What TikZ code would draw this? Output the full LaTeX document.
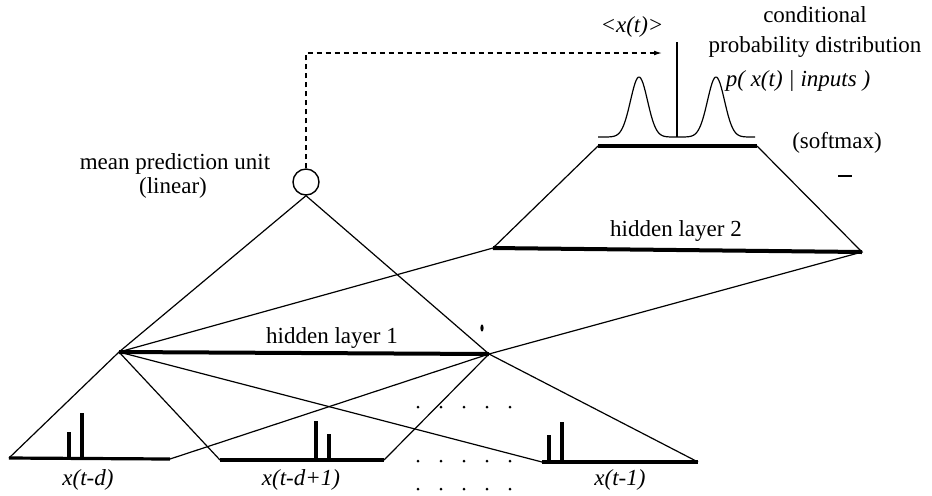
\documentclass[tikz,border=0pt]{standalone}
\usepackage{fontspec}
\setmainfont{Liberation Serif}
\usetikzlibrary{arrows.meta}

\begin{document}
\begin{tikzpicture}[
    x=0.5pt, y=-0.5pt,
    conn/.style={line width=0.6pt},
    layer/.style={line width=2pt},
    inbar/.style={line width=1.6pt},
    spike/.style={line width=1.7pt},
    lbl/.style={font=\fontsize{11.5}{13}\selectfont, inner sep=0pt, anchor=base},
    ilbl/.style={lbl, font=\fontsize{11.5}{13}\selectfont\itshape},
    unit/.style={circle, draw, line width=0.7pt, minimum size=13pt, inner sep=0pt},
    fb/.style={dash pattern=on 2.5pt off 2pt, line width=0.6pt, -{Latex[length=4pt,width=2.4pt]}}
  ]
  \useasboundingbox (0,0) rectangle (932,495);

  % layer end points
  \coordinate (h1l) at (119,352);
  \coordinate (h1r) at (489,354);
  \coordinate (h2l) at (493,248);
  \coordinate (h2r) at (862,252);
  \coordinate (sml) at (598,146);
  \coordinate (smr) at (757,146);
  \coordinate (in1l) at (9,458);
  \coordinate (in1r) at (170,459);
  \coordinate (in2l) at (220,460);
  \coordinate (in2r) at (384,460);
  \coordinate (in3l) at (542,462);
  \coordinate (in3r) at (698,462);

  \node[unit] (mu) at (306,182) {};
  \coordinate (fbc) at (306,53);
  \coordinate (fbt) at (662,53);
  \coordinate (mtop) at (677,42);
  \coordinate (mbot) at (677,137);

  % connections
  \draw[conn] (h1l) -- (mu.south) -- (h1r);
  \draw[conn] (h1l) -- (h2l) -- (sml);
  \draw[conn] (h1r) -- (h2r) -- (smr);
  \foreach \s in {in1l,in2l,in3l} \draw[conn] (h1l) -- (\s);
  \foreach \s in {in1r,in2r,in3r} \draw[conn] (h1r) -- (\s);
  \draw[fb] (mu.north) -- (fbc) -- (fbt);

  % layers
  \draw[layer] (h1l) -- (h1r);
  \draw[layer] (h2l) -- (h2r);
  \draw[layer] (sml) -- (smr);
  \draw[inbar] (in1l) -- (in1r);
  \draw[inbar] (in2l) -- (in2r);
  \draw[inbar] (in3l) -- (in3r);
  \foreach \sx/\sb/\st in {69/458/432, 82/458/413, 316/460/421, 329/460/434, 549/462/435, 562/462/422}
    \draw[spike] (\sx,\sb) -- (\sx,\st);

  % output distribution
  \draw[conn] (598,137) -- plot[domain=605:673, samples=60] (\x, {137-60*exp(-0.5*pow((\x-639)/8.5,2))})
    -- plot[domain=682:750, samples=60] (\x, {137-60*exp(-0.5*pow((\x-716)/8.5,2))}) -- (755,137);
  \draw[conn] (mtop) -- (mbot);

  % unrolled inputs
  \foreach \dx in {418,441,464,487,510}
    \foreach \dy in {407,461,489}
      \fill (\dx,\dy) circle (0.75pt);

  % stray marks
  \draw[conn] (838,176) -- (852,176);
  \fill (482,328) ellipse (0.8pt and 1.8pt);

  % labels
  \node[ilbl] (mean) at (632,32) {<x(t)>};
  \node[lbl] (cond) at (815,22) {conditional};
  \node[lbl] (prob) at (815,52) {probability distribution};
  \node[ilbl] (pdist) at (798,86) {p( x(t) | inputs )};
  \node[lbl] (soft) at (837,148) {(softmax)};
  \node[lbl] (mpu) at (175,169) {mean prediction unit};
  \node[lbl] (lin) at (173,193) {(linear)};
  \node[lbl] (hl1) at (332,343) {hidden layer 1};
  \node[lbl] (hl2) at (676,236) {hidden layer 2};
  \node[ilbl] (x1) at (88,485) {x(t-d)};
  \node[ilbl] (x2) at (301,485) {x(t-d+1)};
  \node[ilbl] (x3) at (620,485) {x(t-1)};
\end{tikzpicture}
\end{document}
